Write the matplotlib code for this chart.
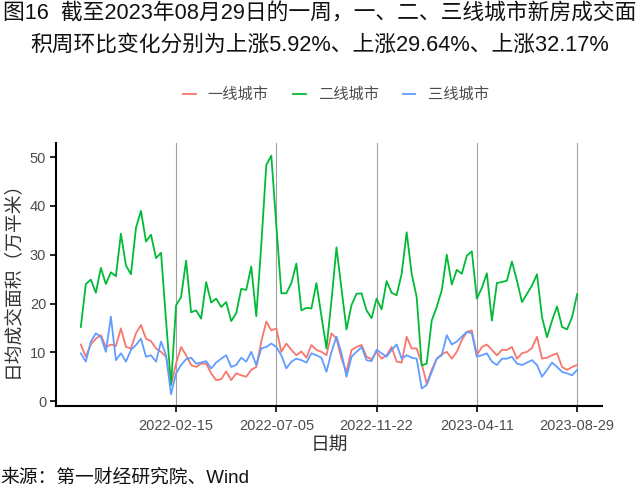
import matplotlib
matplotlib.use("Agg")
import matplotlib.pyplot as plt
import pandas as pd

plt.rcParams['font.family'] = ['Liberation Sans', 'Noto Sans CJK SC', 'DejaVu Sans']

dates = pd.date_range(end="2023-08-29", periods=100, freq="7D")

tier1 = [11.6, 9.1, 11.6, 12.8, 13.5, 11.1, 11.6, 11.3, 14.9, 11.1,
         10.8, 13.9, 15.6, 12.8, 12.3, 10.8, 10.1, 9.1, 3.3, 7.7,
         11.1, 9.4, 7.4, 7.0, 7.7, 7.7, 5.7, 4.3, 4.5, 6.1,
         4.3, 5.7, 5.3, 5.0, 6.4, 7.0, 12.2, 16.3, 14.5, 14.9,
         10.1, 11.8, 10.5, 9.4, 10.2, 8.9, 11.5, 10.5, 10.1, 9.4,
         13.9, 12.8, 8.7, 6.0, 10.5, 11.1, 11.5, 9.1, 8.6, 10.1,
         8.7, 9.4, 11.1, 8.1, 7.9, 13.2, 10.8, 10.8, 7.7, 3.6,
         6.4, 8.7, 9.6, 10.1, 8.7, 10.1, 12.5, 14.2, 14.5, 9.4,
         11.1, 11.6, 10.5, 9.4, 10.5, 10.5, 11.1, 8.7, 9.8, 10.1,
         10.9, 13.2, 8.7, 8.9, 9.4, 9.8, 7.0, 6.4, 7.0, 7.4]

tier2 = [15.2, 24.0, 24.9, 22.2, 27.3, 24.0, 26.4, 25.6, 34.3, 27.8,
         26.0, 35.5, 39.0, 32.7, 34.1, 29.3, 30.4, 16.5, 3.3, 19.6,
         21.3, 28.8, 18.2, 18.6, 16.9, 24.4, 20.2, 21.0, 19.3, 20.3,
         16.4, 18.0, 23.0, 22.8, 27.6, 17.4, 32.0, 48.4, 50.3, 36.0,
         22.1, 22.1, 24.2, 28.2, 18.6, 19.1, 19.0, 24.2, 17.4, 10.8,
         20.6, 31.5, 23.0, 14.7, 19.7, 22.0, 22.1, 18.6, 17.0, 21.0,
         18.8, 24.6, 22.2, 21.7, 26.1, 34.6, 26.1, 21.3, 7.3, 7.7,
         16.5, 19.3, 22.7, 30.0, 23.9, 26.9, 26.1, 29.8, 30.7, 21.0,
         23.2, 26.2, 16.5, 24.2, 24.4, 24.7, 28.6, 24.7, 20.3, 22.0,
         23.7, 26.0, 17.2, 13.1, 16.5, 19.4, 15.2, 14.7, 17.2, 21.9]

tier3 = [9.8, 8.1, 12.2, 13.9, 13.2, 10.1, 17.3, 8.4, 9.8, 8.1,
         10.5, 11.5, 12.8, 9.1, 9.4, 8.1, 12.2, 9.4, 1.4, 5.7,
         7.4, 8.6, 8.9, 7.7, 7.9, 8.2, 6.7, 7.9, 8.7, 9.4,
         7.0, 7.4, 8.9, 8.1, 10.1, 7.4, 10.8, 11.1, 11.8, 11.1,
         9.4, 6.7, 8.1, 8.7, 8.4, 7.9, 9.8, 9.4, 8.9, 6.0,
         10.1, 13.2, 9.8, 5.0, 9.1, 10.1, 11.1, 8.4, 8.2, 10.5,
         9.8, 9.1, 10.5, 11.6, 8.7, 9.4, 8.9, 8.7, 2.6, 3.3,
         6.0, 8.7, 9.4, 13.5, 11.6, 12.2, 13.2, 14.2, 13.9, 9.1,
         9.4, 9.8, 8.1, 7.4, 8.7, 8.7, 9.1, 7.7, 7.4, 7.9,
         8.4, 7.4, 5.0, 6.4, 7.9, 7.0, 6.0, 5.7, 5.3, 6.4]

names = ["一线城市", "二线城市", "三线城市"]
colors = ["#F8766D", "#00BA38", "#619CFF"]
tick_dates = ["2022-02-15", "2022-07-05", "2022-11-22", "2023-04-11", "2023-08-29"]

fig = plt.figure(figsize=(6.4, 4.98), dpi=100)
ax = fig.add_axes([0.0875, 0.1847, 0.853, 0.5282])

for vals, name, c in zip([tier1, tier2, tier3], names, colors):
    ax.plot(dates, vals, color=c, lw=1.3, label=name)

span = dates[-1] - dates[0]
ax.set_xlim(dates[0] - span * 0.05, dates[-1] + span * 0.05)
ax.set_ylim(-1.0, 52.9)
ax.set_yticks([0, 10, 20, 30, 40, 50])
ax.set_xticks(pd.to_datetime(tick_dates))
ax.set_xticklabels(tick_dates)
ax.grid(axis="x", color="#a0a0a0", lw=0.8)
ax.set_axisbelow(True)

for s in ["top", "right"]:
    ax.spines[s].set_visible(False)
for s in ["left", "bottom"]:
    ax.spines[s].set_linewidth(1.5)
    ax.spines[s].set_color("black")
ax.tick_params(axis="both", length=4, width=1.2, colors="black",
               labelcolor="#4d4d4d", labelsize=10.5, pad=3)
ax.tick_params(axis="x", pad=5)

ax.set_xlabel("日期", fontsize=13.5, color="#333333", labelpad=3)
ax.set_ylabel("日均成交面积（万平米）", fontsize=13.5, color="#333333", labelpad=6)

fig.text(0.5, 0.972, "图16  截至2023年08月29日的一周，一、二、三线城市新房成交面",
         ha="center", va="center", fontsize=15.7, color="#111111")
fig.text(0.5, 0.909, "积周环比变化分别为上涨5.92%、上涨29.64%、上涨32.17%",
         ha="center", va="center", fontsize=15.7, color="#111111")

fig.legend(loc="center", bbox_to_anchor=(0.525, 0.81), ncol=3, frameon=False,
           fontsize=11, handlelength=0.8, handletextpad=0.8, columnspacing=1.6,
           labelcolor="#4d4d4d")

fig.text(0.0, 0.04, "来源：第一财经研究院、Wind", ha="left", va="center",
         fontsize=13.5, color="#111111")

fig.savefig("out.png", dpi=100)
